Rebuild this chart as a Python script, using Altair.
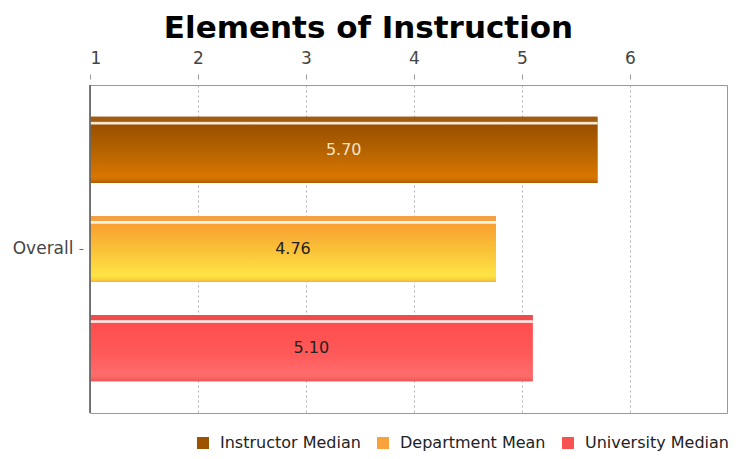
import altair as alt
import pandas as pd

# ---- data ----
category = "Overall"
series = ["Instructor Median", "Department Mean", "University Median"]
values = [5.70, 4.76, 5.10]
ticks = [1, 2, 3, 4, 5, 6]

legend_colors = ["#9c5200", "#f9a13a", "#f75252"]
label_colors = ["#f3e4c6", "#222222", "#222222"]

gradient_stops = {
    "Instructor Median": [(0, "#a25c12"), (0.07, "#a25c12"), (0.085, "#fbe9d2"), (0.11, "#fbe9d2"),
                          (0.125, "#9a5000"), (0.5, "#b46200"), (0.9, "#d87600"), (0.95, "#cf7000"), (1, "#ad5c00")],
    "Department Mean": [(0, "#f5a043"), (0.07, "#f5a043"), (0.085, "#fff6e6"), (0.11, "#fff6e6"),
                        (0.125, "#f8a030"), (0.5, "#fac038"), (0.9, "#fde445"), (0.95, "#fbd640"), (1, "#f4b238")],
    "University Median": [(0, "#f04c4c"), (0.07, "#f04c4c"), (0.085, "#ffe8e8"), (0.11, "#ffe8e8"),
                          (0.125, "#ff4d4d"), (0.6, "#ff5a5a"), (0.9, "#ff6c6c"), (0.95, "#fa6464"), (1, "#ec5454")],
}

df = pd.DataFrame({"category": [category] * len(series), "series": series, "value": values})

FONT = "DejaVu Sans"

x_scale = alt.Scale(domain=[1, 6.9], nice=False, zero=False)
y_scale = alt.Scale(paddingInner=0, paddingOuter=0)
yoff_scale = alt.Scale(domain=series, paddingInner=0.333, paddingOuter=0.32)

x_axis = alt.Axis(orient="top", values=ticks, format="d", title=None, grid=True,
                  gridDash=[2, 3], gridColor="#b0b0b0", domain=False, tickSize=5,
                  tickColor="#999999", offset=6, labelPadding=7, labelFontSize=17,
                  labelColor="#444444", labelFont=FONT)
y_axis = alt.Axis(title=None, domain=False, tickSize=4, tickColor="#666666", offset=7,
                  labelPadding=6, labelFontSize=17, labelColor="#444444", labelFont=FONT, grid=False)

base = alt.Chart(df).transform_calculate(base="1", mid="(datum.value + 1) / 2")

solid = base.mark_bar().encode(
    x=alt.X("base:Q", scale=x_scale, axis=x_axis),
    x2="value:Q",
    y=alt.Y("category:N", scale=y_scale, axis=y_axis),
    yOffset=alt.YOffset("series:N", scale=yoff_scale),
    color=alt.Color("series:N", scale=alt.Scale(domain=series, range=legend_colors),
                    legend=alt.Legend(title=None)),
)

layers = [solid]
for s in series:
    grad = alt.LinearGradient(
        gradient="linear", x1=0, x2=0, y1=0, y2=1,
        stops=[alt.GradientStop(offset=o, color=c) for o, c in gradient_stops[s]],
    )
    layers.append(
        base.transform_filter(alt.datum.series == s).mark_bar(fill=grad, strokeWidth=0).encode(
            x=alt.X("base:Q", scale=x_scale),
            x2="value:Q",
            y=alt.Y("category:N", scale=y_scale),
            yOffset=alt.YOffset("series:N", scale=yoff_scale),
        )
    )

left_edge = base.mark_rule(color="#666666", strokeWidth=1).encode(x=alt.datum(1))
layers.append(left_edge)

labels = base.mark_text(font=FONT, fontSize=16, align="center", baseline="middle").encode(
    x=alt.X("mid:Q", scale=x_scale),
    y=alt.Y("category:N", scale=y_scale),
    yOffset=alt.YOffset("series:N", scale=yoff_scale),
    text=alt.Text("value:Q", format=".2f"),
    color=alt.Color("series:N", scale=alt.Scale(domain=series, range=label_colors), legend=None),
)
layers.append(labels)

chart = alt.layer(*layers).resolve_scale(color="independent").properties(
    width=637,
    height=328,
    autosize=alt.AutoSizeParams(type="none"),
    padding={"left": 82, "top": 77, "right": 10, "bottom": 38},
    title=alt.TitleParams("Elements of Instruction", font=FONT, fontSize=31, fontWeight="bold",
                          color="#000000", anchor="middle", dx=-40, offset=4),
).configure_view(
    stroke="#999999", strokeWidth=1
).configure_legend(
    orient="none", legendX=105, legendY=350, direction="horizontal", symbolType="square",
    symbolSize=144, symbolStrokeWidth=0, labelFont=FONT, labelFontSize=16, labelColor="#222222",
    labelOffset=9, columnPadding=14, padding=0, symbolOpacity=1,
)

chart.save("out.html", embed_options={"renderer": "svg", "actions": False})
